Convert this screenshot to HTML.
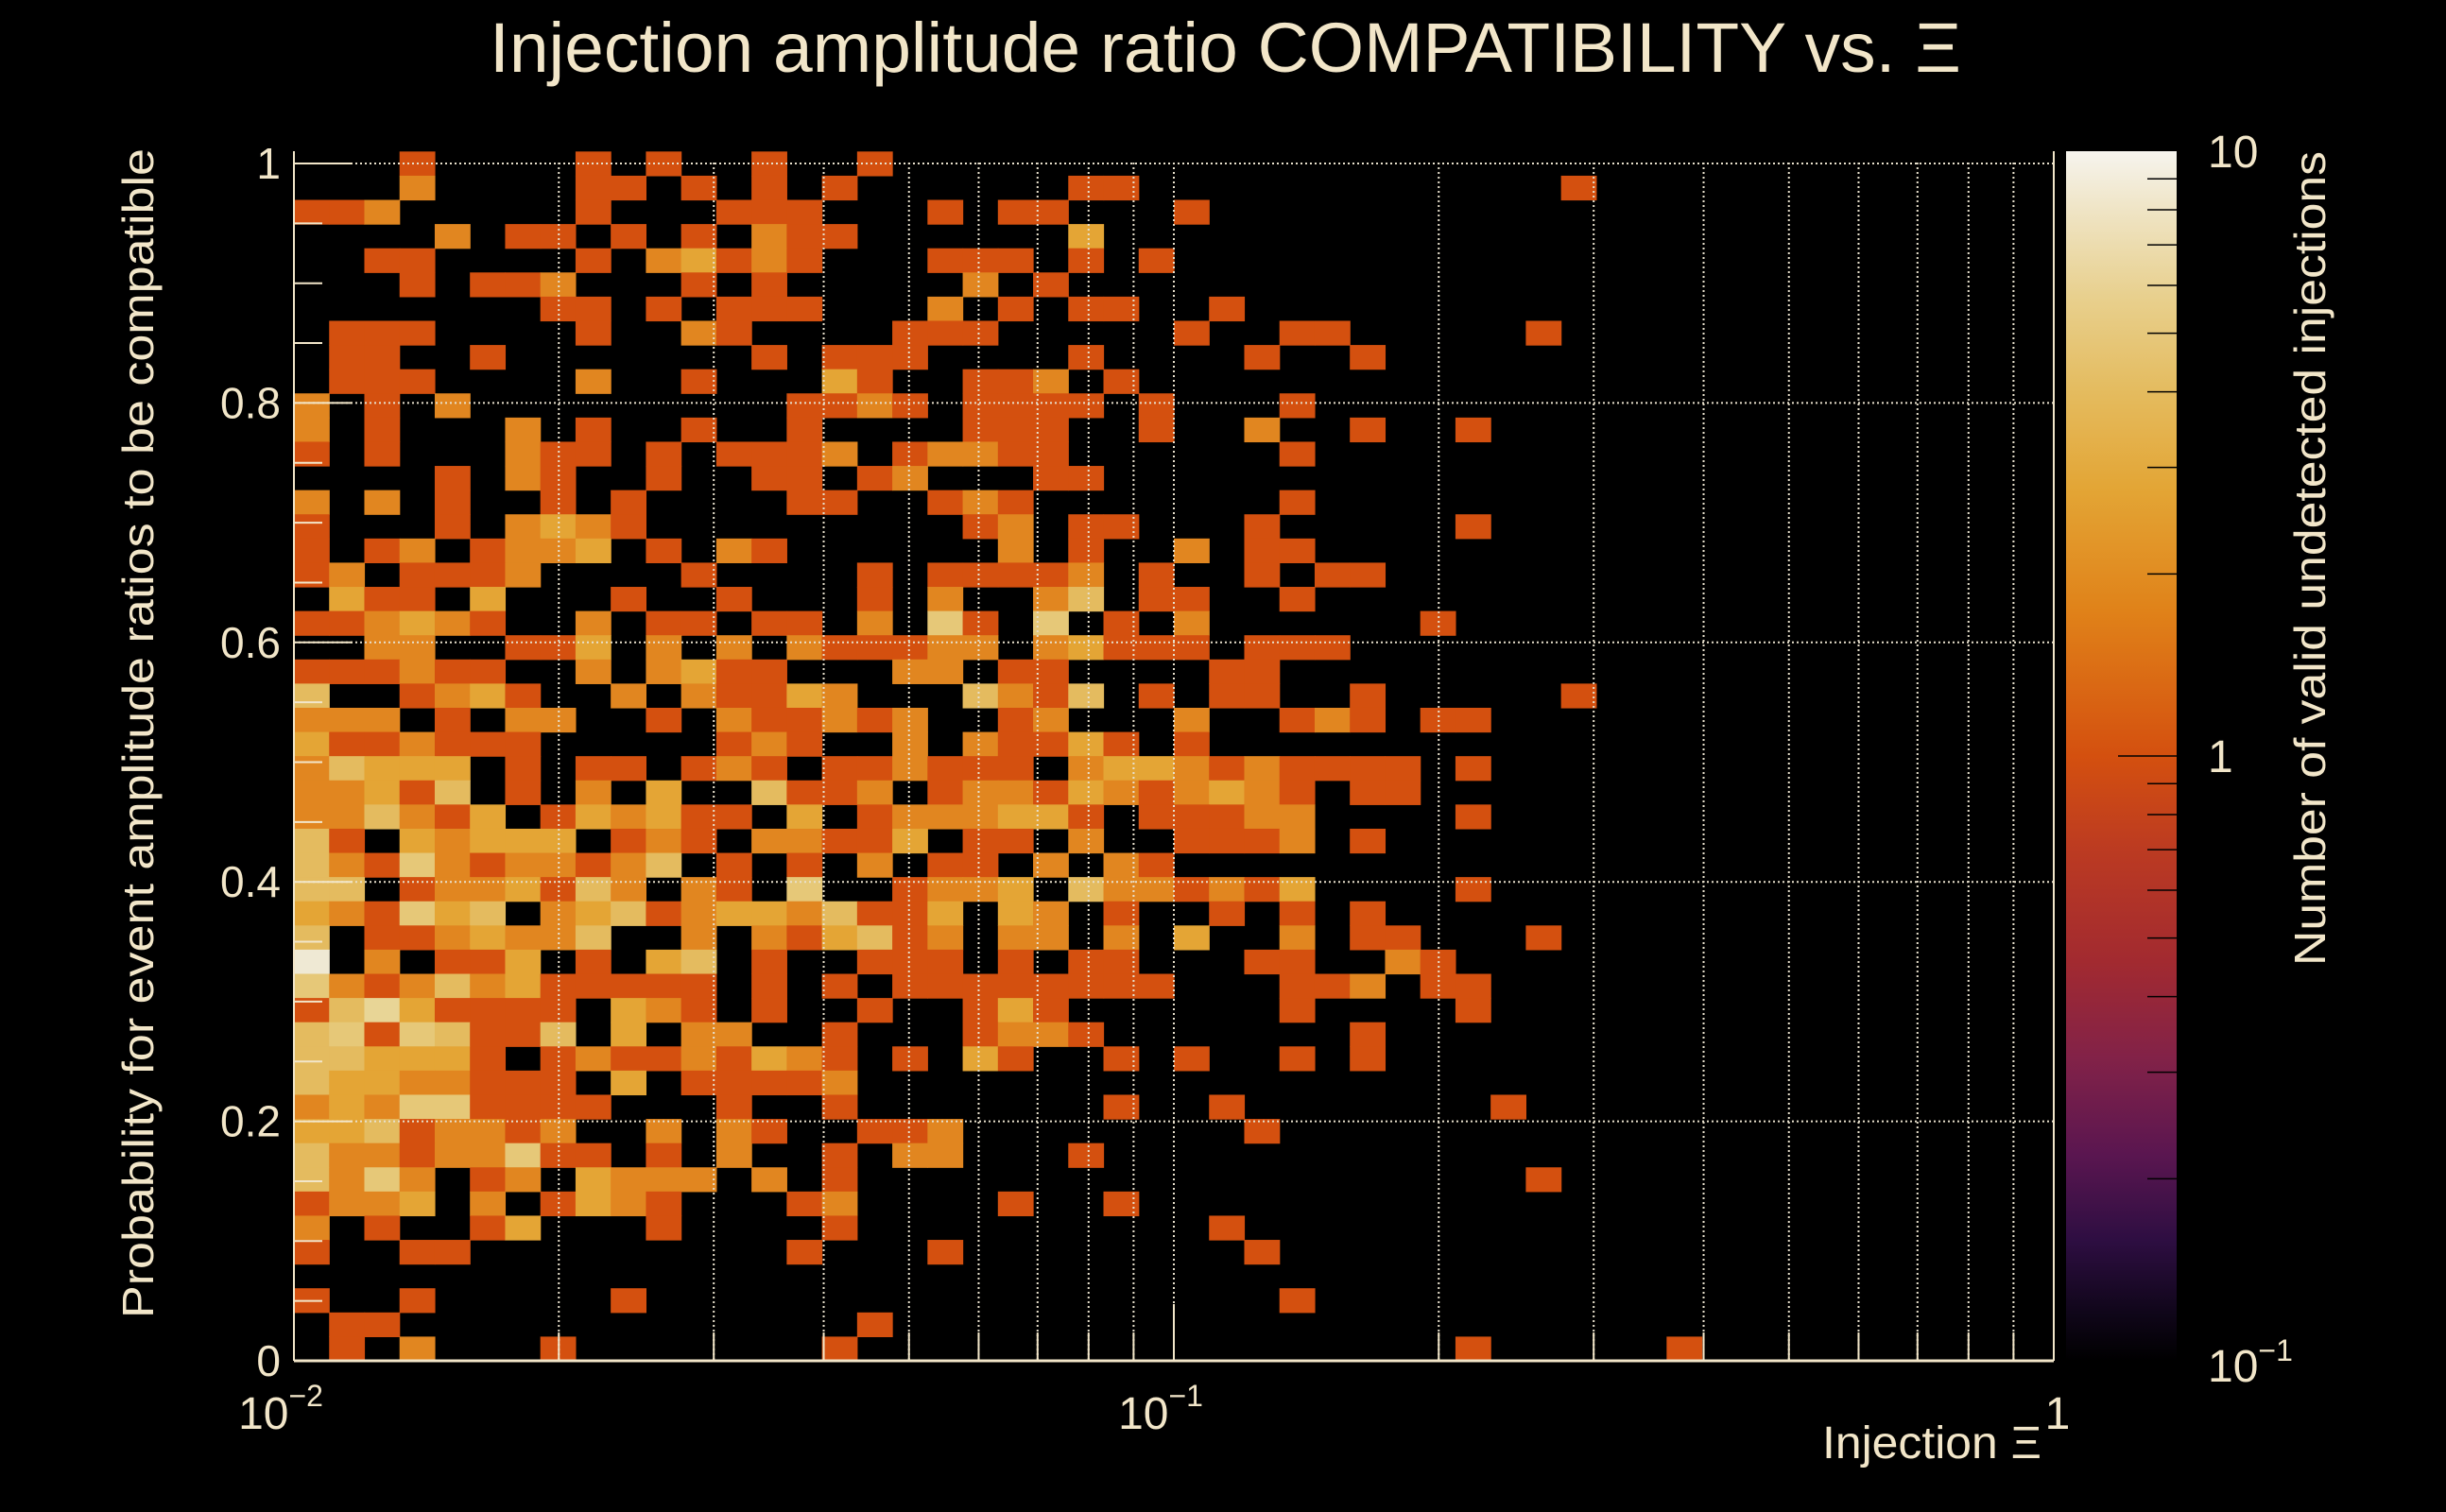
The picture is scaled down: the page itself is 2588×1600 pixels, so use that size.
<!DOCTYPE html>
<html><head><meta charset="utf-8"><title>Injection amplitude ratio compatibility</title>
<style>html,body{margin:0;padding:0;background:#000;}svg{display:block;}text{font-family:"Liberation Sans",sans-serif;fill:#f2e6c9;}</style>
</head><body>
<svg id="chart" width="2588" height="1600" viewBox="0 0 2588 1600" xmlns="http://www.w3.org/2000/svg">
<defs>
<linearGradient id="cbgrad" x1="0" y1="1" x2="0" y2="0">
<stop offset="0" stop-color="#000000"/><stop offset="0.04" stop-color="#10061a"/><stop offset="0.1" stop-color="#2e0e42"/>
<stop offset="0.17" stop-color="#5a1650"/><stop offset="0.25" stop-color="#822248"/><stop offset="0.33" stop-color="#a22a30"/>
<stop offset="0.42" stop-color="#bb3a22"/><stop offset="0.5" stop-color="#d4500f"/><stop offset="0.62" stop-color="#e08219"/>
<stop offset="0.72" stop-color="#e3a535"/><stop offset="0.8" stop-color="#e4bb5e"/><stop offset="0.88" stop-color="#e8d08e"/>
<stop offset="0.95" stop-color="#efe4c4"/><stop offset="1" stop-color="#f6f4ee"/>
</linearGradient>
</defs>
<rect x="0" y="0" width="2588" height="1600" fill="#000"/>
<text x="518" y="76" font-size="74" textLength="1557" lengthAdjust="spacingAndGlyphs">Injection amplitude ratio COMPATIBILITY vs.  Ξ</text>
<g id="cells"></g>
<g id="grid"></g>
<g id="axes"></g>
<text transform="translate(162,776) rotate(-90)" text-anchor="middle" font-size="46" textLength="1238" lengthAdjust="spacingAndGlyphs">Probability for event amplitude ratios to be compatible</text>
<text x="2160" y="1543" text-anchor="end" font-size="48" textLength="232" lengthAdjust="spacingAndGlyphs">Injection Ξ</text>
<rect x="2186" y="160" width="117" height="1280" fill="url(#cbgrad)"/>
<g id="cbticks"></g>
<text x="2336" y="177" font-size="48">10</text>
<text x="2336" y="817" font-size="48">1</text>
<text x="2336" y="1462" font-size="48">10<tspan font-size="32" dy="-22">−1</tspan></text>
<text transform="translate(2460,591) rotate(-90)" text-anchor="middle" font-size="46" textLength="862" lengthAdjust="spacingAndGlyphs">Number of valid undetected injections</text>
</svg>
<script>
const leftRows = [
"000100001010010010000","000200001101010100000","112000001000111000101","000020110101021100000",
"001100001023121000111","000101120001010000020","000000011010111000201","011100001002100001110",
"011001000000010111000","011100002001000310011","201020000000001121011","201000201001001000011",
"101000211010111201221","000010210010011012000","202010010100001100121","100010232100000000012",
"101201223010210000002","120111200001000010111","031103000100100010200","112321002011011020510",
"002200113020202111220","111211002023110002201","400123100202113200042","222010220010211212001",
"311211100000121002021","243330101101210112111","223140102030041120122","224213013231103012223",
"410323330121022113011","421521221240101020110","440122314202105001223","321534023412332411303",
"401123224002021341202","902011301034010011101","521242311111010101111","146311110321010010013",
"451541140302200100012","443331012112132101031","433221110301111200000","232551111000100100000",
"334122120020210011200","422122511010200102200","425201203222020100000","122302013210001200001",
"201001300010000100000","100110000000001000100","000000000000000000000","100100000100000000000",
"011000000000000010000","010200010000000100000"];
const rightRows = [
"0","01100000000000010","10001","03","0101","1","011001","000010011000001",
"0100001001","201","11010001","1001002001001","10000001","11","00000001","0110001000001",
"01002011","1201001011","24011001","501020000001","231110111","1000011","1401011001000001","2000200121011",
"13101","0233212111101","13212321011","3101112200001","0200111201","2021","0422121300001","2010010101",
"202030020110001","011000110021","1111000112011","1000000100001","2100000001","0010100101","0","00100100000001",
"0000001","01","000000000000001","001","000001","0000001","0","00000001",
"0","0000000000001000001"];
const yTickValues = [0, 0.2, 0.4, 0.6, 0.8, 1];
const yTickLabels = ["0", "0.2", "0.4", "0.6", "0.8", "1"];
const xDecades = [0.01, 0.1, 1];
const xDecadeLabels = [["10","−2"], ["10","−1"], ["1",""]];
const colorbarMinors = [0.2,0.3,0.4,0.5,0.6,0.7,0.8,0.9,2,3,4,5,6,7,8,9];

const NS = "http://www.w3.org/2000/svg";
const X0 = 311, X1 = 2173, Y0 = 1440, Y1 = 173;
const NX = 50, NY = 50, YMAX = 1.01;
function xs(v){ return X0 + (Math.log10(v) + 2) / 2 * (X1 - X0); }
function ys(v){ return Y0 - v * (Y0 - Y1); }
function hex(h){ return [parseInt(h.slice(1,3),16),parseInt(h.slice(3,5),16),parseInt(h.slice(5,7),16)]; }
const stops = [[0,"#000000"],[0.04,"#10061a"],[0.1,"#2e0e42"],[0.17,"#5a1650"],[0.25,"#822248"],[0.33,"#a22a30"],[0.42,"#bb3a22"],[0.5,"#d4500f"],[0.65,"#e18620"],[0.74,"#e4a535"],[0.8,"#e4bb5e"],[0.85,"#e6c878"],[0.89,"#e8d597"],[0.97,"#ede6cc"],[1,"#f6f4ee"]];
function colorFor(v){
  let t = (Math.log10(v) + 1) / 2; t = Math.max(0, Math.min(1, t));
  for (let i = 1; i < stops.length; i++) {
    if (t <= stops[i][0]) {
      const a = hex(stops[i-1][1]), b = hex(stops[i][1]);
      const f = (t - stops[i-1][0]) / (stops[i][0] - stops[i-1][0]);
      return "rgb(" + a.map((c,k)=>Math.round(c + (b[k]-c)*f)).join(",") + ")";
    }
  }
  return stops[stops.length-1][1];
}
function mk(tag, attrs, parent){
  const e = document.createElementNS(NS, tag);
  for (const k in attrs) e.setAttribute(k, attrs[k]);
  parent.appendChild(e); return e;
}
const cells = document.getElementById("cells");
for (let i = 0; i < NY; i++) {
  const row = (leftRows[i].padEnd(21,"0").slice(0,21) + rightRows[i]).padEnd(NX,"0");
  const j = NY - 1 - i;
  const yb = j * YMAX / NY, yt = (j + 1) * YMAX / NY;
  for (let k = 0; k < NX; k++) {
    const v = parseInt(row[k], 10);
    if (!v) continue;
    const xl = 0.01 * Math.pow(10, 2 * k / NX), xr = 0.01 * Math.pow(10, 2 * (k + 1) / NX);
    const r = mk("rect", {x: xs(xl).toFixed(2), y: ys(yt).toFixed(2), width: (xs(xr)-xs(xl)+0.6).toFixed(2), height: (ys(yb)-ys(yt)+0.6).toFixed(2), fill: colorFor(v)}, cells);
    
    
  }
}
const grid = document.getElementById("grid");
for (let i = 1; i < yTickValues.length; i++) {
  const l = mk("line", {x1: X0, x2: X1, y1: ys(yTickValues[i]), y2: ys(yTickValues[i]), stroke: "#e8e0cc", "stroke-width": 2, "stroke-dasharray": "2 3"}, grid);
  
  
}
for (let d = 0; d < 2; d++) {
  for (let m = 1; m <= 9; m++) {
    if (d === 0 && m === 1) continue;
    const v = xDecades[d] * m;
    const l = mk("line", {x1: xs(v), x2: xs(v), y1: Y0 - 1268, y2: Y0, stroke: "#e8e0cc", "stroke-width": 2, "stroke-dasharray": "2 3"}, grid);
    
    
  }
}
const axes = document.getElementById("axes");
let ax = mk("line", {x1: X0, x2: X1, y1: Y0, y2: Y0, stroke: "#f2e6c9", "stroke-width": 3}, axes);


ax = mk("line", {x1: X0, x2: X0, y1: 160, y2: Y0, stroke: "#f2e6c9", "stroke-width": 2}, axes);


ax = mk("line", {x1: X1, x2: X1, y1: 160, y2: Y0, stroke: "#f2e6c9", "stroke-width": 2}, axes);


for (let v = 0; v <= 1.0001; v += 0.05) {
  const major = Math.abs(v*5 - Math.round(v*5)) < 1e-6;
  const t = mk("line", {x1: X0, x2: X0 + (major ? 62 : 30), y1: ys(v), y2: ys(v), stroke: "#f2e6c9", "stroke-width": 2}, axes);
  
  
}
for (let i = 0; i < yTickValues.length; i++) {
  const t = mk("text", {x: 297, y: ys(yTickValues[i]) + 16, "text-anchor": "end", "font-size": 46}, axes);
  t.textContent = yTickLabels[i];
  
  
}
for (let d = 0; d < 2; d++) {
  for (let m = 1; m <= 9; m++) {
    const v = xDecades[d] * m;
    const t = mk("line", {x1: xs(v), x2: xs(v), y1: Y0, y2: Y0 - (m === 1 ? 60 : 30), stroke: "#f2e6c9", "stroke-width": 2}, axes);
    
    
  }
}
for (let d = 0; d < xDecades.length; d++) {
  const t = mk("text", {x: xs(xDecades[d]) - (d < 2 ? 14 : -4), y: 1512, "text-anchor": "middle", "font-size": 48}, axes);
  t.textContent = xDecadeLabels[d][0];
  if (xDecadeLabels[d][1]) {
    const s = mk("tspan", {"font-size": 32, dy: -24}, t);
    s.textContent = xDecadeLabels[d][1];
  }
  
  
}
const cbt = document.getElementById("cbticks");
function cby(v){ return 1440 - (Math.log10(v) + 1) / 2 * 1280; }
for (const v of colorbarMinors) {
  const t = mk("line", {x1: 2272, x2: 2303, y1: cby(v), y2: cby(v), stroke: "#000", "stroke-width": 1.5}, cbt);
  
  
}
const cbm = mk("line", {x1: 2241, x2: 2303, y1: cby(1), y2: cby(1), stroke: "#000", "stroke-width": 1.5}, cbt);


</script>
</body></html>
